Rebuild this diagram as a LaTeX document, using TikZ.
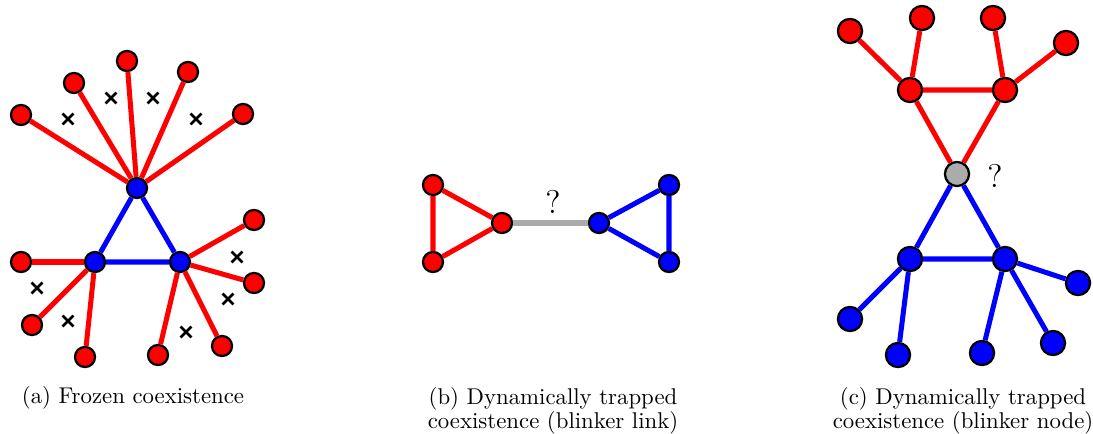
\documentclass[tikz,border=0pt]{standalone}
\usetikzlibrary{shapes.misc}
\begin{document}
\begin{tikzpicture}[x=0.4386pt,y=-0.4386pt,
  nd/.style={circle,draw=black,line width=1pt,minimum size=8.8pt,inner sep=0pt},
  rn/.style={nd,fill=red},
  bn/.style={nd,fill=blue},
  gn/.style={nd,fill=black!33},
  bign/.style={minimum size=10.6pt},
  re/.style={draw=red,line width=2.2pt},
  be/.style={draw=blue,line width=2.2pt},
  ge/.style={draw=black!33,line width=2.2pt},
  xm/.style={cross out,draw=black,line width=1.2pt,minimum size=3.6pt,inner sep=0pt},
  qm/.style={font=\fontsize{14.4}{16}\selectfont},
  captext/.style={align=center,font=\fontsize{10}{10.5}\selectfont}]
\useasboundingbox (0,0) rectangle (1093,434);
% ---------- (a) ----------
\node[bn] (A0) at (137,188) {};
\node[bn] (A1) at (95,262) {};
\node[bn] (A2) at (180,262) {};
\node[rn] (T1) at (21,115) {};
\node[rn] (T2) at (74,83) {};
\node[rn] (T3) at (127,61) {};
\node[rn] (T4) at (188,72) {};
\node[rn] (T5) at (243,114) {};
\node[rn] (L1) at (21,262) {};
\node[rn] (L2) at (32,325) {};
\node[rn] (L3) at (85,357) {};
\node[rn] (R1) at (254,220) {};
\node[rn] (R2) at (254,283) {};
\node[rn] (R3) at (222,346) {};
\node[rn] (R4) at (158,355) {};
\foreach \n in {T1,T2,T3,T4,T5} \draw[re] (A0) -- (\n);
\foreach \n in {L1,L2,L3} \draw[re] (A1) -- (\n);
\foreach \n in {R1,R2,R3,R4} \draw[re] (A2) -- (\n);
\draw[be] (A0) -- (A1) -- (A2) -- (A0);
\node[xm] (x1) at (68,119) {};
\node[xm] (x2) at (111,98) {};
\node[xm] (x3) at (153,98) {};
\node[xm] (x4) at (196,119) {};
\node[xm] (x5) at (237,257) {};
\node[xm] (x6) at (228,299) {};
\node[xm] (x7) at (186,332) {};
\node[xm] (x8) at (68,321) {};
\node[xm] (x9) at (37,288) {};
\node[captext,anchor=base] (capa) at (133,403) {(a) Frozen coexistence};
% ---------- (b) ----------
\node[rn] (B1) at (433,185) {};
\node[rn] (B2) at (433,262) {};
\node[rn] (B3) at (502,223) {};
\node[bn] (B4) at (599,223) {};
\node[bn] (B5) at (669,185) {};
\node[bn] (B6) at (669,262) {};
\draw[re] (B1) -- (B2) -- (B3) -- (B1);
\draw[be] (B4) -- (B5) -- (B6) -- (B4);
\draw[ge] (B3) -- (B4);
\node[qm] (qb) at (553,202) {?};
\node[captext,anchor=base] (capb) at (553,428) {(b) Dynamically trapped\\coexistence (blinker link)};
% ---------- (c) ----------
\node[gn,bign] (G) at (957,174) {};
\node[rn,bign] (C1) at (910,90) {};
\node[rn,bign] (C2) at (1005,90) {};
\node[rn,bign] (C3) at (850,31) {};
\node[rn,bign] (C4) at (922,18) {};
\node[rn,bign] (C5) at (993,18) {};
\node[rn,bign] (C6) at (1066,43) {};
\node[bn,bign] (D1) at (910,259) {};
\node[bn,bign] (D2) at (1005,259) {};
\node[bn,bign] (D3) at (850,319) {};
\node[bn,bign] (D4) at (898,355) {};
\node[bn,bign] (D5) at (982,353) {};
\node[bn,bign] (D6) at (1053,343) {};
\node[bn,bign] (D7) at (1078,283) {};
\draw[re] (G) -- (C1) -- (C2) -- (G);
\draw[re] (C1) -- (C3);
\draw[re] (C1) -- (C4);
\draw[re] (C2) -- (C5);
\draw[re] (C2) -- (C6);
\draw[be] (G) -- (D1) -- (D2) -- (G);
\draw[be] (D1) -- (D3);
\draw[be] (D1) -- (D4);
\draw[be] (D2) -- (D5);
\draw[be] (D2) -- (D6);
\draw[be] (D2) -- (D7);
\node[qm] (qc) at (995,176) {?};
\node[captext,anchor=base] (capc) at (963,428) {(c) Dynamically trapped\\coexistence (blinker node)};
\end{tikzpicture}
\end{document}
